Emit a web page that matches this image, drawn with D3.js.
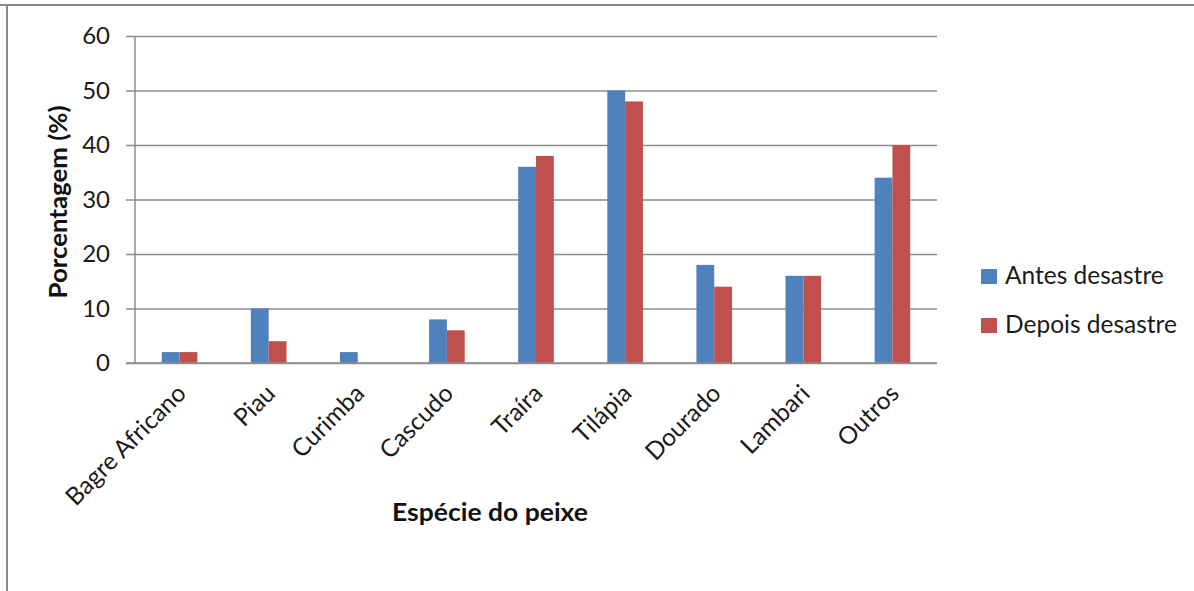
<!DOCTYPE html>
<html>
<head>
<meta charset="utf-8">
<script src="https://cdn.jsdelivr.net/npm/d3@7"></script>
<style>
  html, body { margin: 0; padding: 0; background: #fff; }
  svg { display: block; font-family: Lato, "Open Sans", sans-serif; }
</style>
</head>
<body>
<svg id="chart" width="1194" height="591"></svg>
<script>
// Fish species and share of catch (%) before and after the disaster
const species = ["Bagre Africano", "Piau", "Curimba", "Cascudo", "Traíra", "Tilápia", "Dourado", "Lambari", "Outros"];
const antes = [2, 10, 2, 8, 36, 50, 18, 16, 34];
const depois = [2, 4, 0, 6, 38, 48, 14, 16, 40];
const seriesNames = ["Antes desastre", "Depois desastre"];
const seriesColors = ["#4F81BD", "#C0504D"];
const yTicks = [0, 10, 20, 30, 40, 50, 60];

const svg = d3.select("#chart");
const W = 1194, H = 591;
const plot = { left: 135, right: 937, top: 36, bottom: 363 };
const textColor = "#1a1a1a";

// outer frame (top and left edges)
svg.append("line").attr("x1", 0).attr("x2", W).attr("y1", 5).attr("y2", 5)
  .attr("stroke", "#8a8a8a").attr("stroke-width", 2);
svg.append("line").attr("x1", 7).attr("x2", 7).attr("y1", 5).attr("y2", H)
  .attr("stroke", "#8a8a8a").attr("stroke-width", 2);

const x = d3.scaleBand().domain(species).range([plot.left, plot.right]).paddingInner(0).paddingOuter(0);
const y = d3.scaleLinear().domain([0, 60]).range([plot.bottom, plot.top]);
const barW = x.bandwidth() / 5;

// horizontal gridlines with outward ticks
const yAxis = d3.axisLeft(y).tickValues(yTicks).tickSize(-(plot.right - plot.left)).tickPadding(25);
const gy = svg.append("g").attr("transform", `translate(${plot.left},0)`).call(yAxis);
gy.select(".domain").remove();
gy.selectAll(".tick line").attr("stroke", "#8c8c8c").attr("stroke-width", 1.5).attr("x1", -9);
gy.selectAll(".tick text").attr("font-size", 24).attr("fill", textColor).attr("font-family", "Lato, sans-serif");

// vertical axis line
svg.append("line").attr("x1", plot.left).attr("x2", plot.left).attr("y1", plot.top).attr("y2", plot.bottom)
  .attr("stroke", "#8c8c8c").attr("stroke-width", 1.5);

// bars
const series = [antes, depois];
series.forEach((vals, si) => {
  svg.append("g").selectAll("rect").data(species).join("rect")
    .attr("x", d => x(d) + x.bandwidth() / 2 - barW + si * barW)
    .attr("width", barW)
    .attr("y", (d, i) => y(vals[i]))
    .attr("height", (d, i) => y(0) - y(vals[i]))
    .attr("fill", seriesColors[si]);
});

// baseline
svg.append("line").attr("x1", plot.left - 9).attr("x2", plot.right).attr("y1", y(0)).attr("y2", y(0))
  .attr("stroke", "#8c8c8c").attr("stroke-width", 1.5);

// category labels rotated -45°
const xAxis = d3.axisBottom(x).tickSize(0).tickPadding(0);
const gx = svg.append("g").attr("transform", `translate(0,${plot.bottom})`).call(xAxis);
gx.select(".domain").remove();
gx.selectAll(".tick text")
  .attr("font-size", 24.5).attr("fill", textColor).attr("font-family", "Lato, sans-serif")
  .attr("text-anchor", "end")
  .attr("dy", 0)
  .attr("transform", "translate(8,32) rotate(-45)");

// axis titles
svg.append("text").attr("x", 490).attr("y", 521).attr("text-anchor", "middle")
  .attr("font-size", 25).attr("font-weight", "bold").attr("fill", "#111")
  .attr("textLength", 196).attr("lengthAdjust", "spacingAndGlyphs")
  .text("Espécie do peixe");
svg.append("text").attr("transform", "translate(67,202) rotate(-90)").attr("text-anchor", "middle")
  .attr("font-size", 25).attr("font-weight", "bold").attr("fill", "#111")
  .attr("textLength", 193).attr("lengthAdjust", "spacingAndGlyphs")
  .text("Porcentagem (%)");

// legend
const legend = svg.append("g");
seriesNames.forEach((name, i) => {
  const top = 269 + i * 49;
  legend.append("rect").attr("x", 981).attr("y", top).attr("width", 16).attr("height", 15).attr("fill", seriesColors[i]);
  legend.append("text").attr("x", 1005).attr("y", top + 15).attr("font-size", 24.5).attr("fill", textColor)
    .text(name);
});
</script>
</body>
</html>
